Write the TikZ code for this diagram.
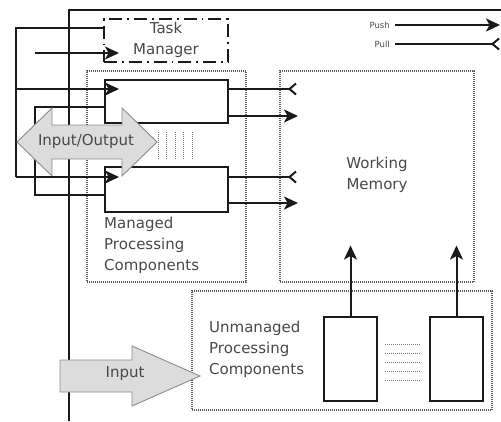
\documentclass[tikz,border=0pt]{standalone}
\usepackage{fontspec}
\setmainfont{DejaVu Sans}
\usetikzlibrary{arrows.meta}
\definecolor{txt}{HTML}{484848}
\definecolor{ln}{HTML}{1A1A1A}
\definecolor{iofill}{HTML}{DCDCDC}
\definecolor{ioline}{HTML}{8C8C8C}
\definecolor{dotc}{HTML}{5A5A5A}
\newcommand\mylbl{\fontsize{15}{21}\selectfont}
\begin{document}
\begin{tikzpicture}[x=1pt,y=-1pt,
  line/.style={draw=ln, line width=2pt},
  push/.style={line, -{Stealth[length=14pt,width=13pt,inset=3.5pt]}},
  pull/.style={line, -{Straight Barb[reversed,length=6.5pt,width=11pt,line width=2pt]}},
  dotbox/.style={draw=dotc, line width=1.1pt, dash pattern=on 1pt off 1pt, inner sep=0pt},
  procbox/.style={line, inner sep=0pt},
  txtn/.style={text=txt, font=\mylbl, inner sep=0pt},
  smalltxt/.style={text=txt, font=\fontsize{8.5}{10}\selectfont, inner sep=0pt},
  fatarrow/.style={draw=ioline, fill=iofill, line width=0.9pt, line join=miter},
  ellip/.style={draw=dotc!80, line width=1pt, dash pattern=on 1pt off 1pt}]
\useasboundingbox (0,0) rectangle (501,421);

% dotted group boxes
\node[dotbox, minimum width=159pt, minimum height=211pt] (mpc) at (166.5,176.5) {};
\node[dotbox, minimum width=194pt, minimum height=211pt] (wm) at (377,176.5) {};
\node[dotbox, minimum width=300pt, minimum height=119pt] (upc) at (342,350.5) {};

% frame
\coordinate (fb) at (69,421);
\coordinate (fc) at (69,10);
\coordinate (fr) at (501,10);
\draw[line] (fb) -- (fc) -- (fr);

% task manager and processing boxes
\node[procbox, dash pattern=on 13pt off 5pt on 1.8pt off 5pt, minimum width=124pt, minimum height=43pt] (tm) at (166,40.5) {};
\node[txtn, align=center] (tmt) at (166,40) {Task\\Manager};
\node[procbox, minimum width=123pt, minimum height=43pt] (p1) at (166.5,101.5) {};
\node[procbox, minimum width=123pt, minimum height=45pt] (p2) at (166.5,189.5) {};
\node[procbox, minimum width=53pt, minimum height=84pt] (ua) at (350.5,359) {};
\node[procbox, minimum width=53pt, minimum height=84pt] (ub) at (456.5,359) {};

% left bus coordinates
\coordinate (t28) at (16,28);
\coordinate (t89) at (16,89);
\coordinate (t177) at (16,177);
\coordinate (b53) at (35,53);
\coordinate (b107) at (35,107);
\coordinate (b195) at (35,195);

\draw[line] (tm.west |- t28) -- (t28) -- (t177);
\draw[push] (t89) -- ([xshift=15pt]p1.west |- t89);
\draw[push] (b53) -- ([xshift=16pt]tm.west |- b53);
\draw[line] (p1.west |- b107) -- (b107) -- (b195) -- (p2.west |- b195);

% right side connections to working memory
\coordinate (r89) at (297,89);
\coordinate (r116) at (298,116);
\coordinate (r177) at (297,177);
\coordinate (r203) at (298,203);
\draw[pull] (p1.east |- r89) -- (r89);
\draw[push] (p1.east |- r116) -- (r116);
\draw[pull] (p2.east |- r177) -- (r177);
\draw[push] (p2.east |- r203) -- (r203);

% unmanaged to working memory
\draw[push] (ua.north) -- ([yshift=37pt]ua.north |- wm.south);
\draw[push] (ub.north) -- ([yshift=37pt]ub.north |- wm.south);

% Input/Output double arrow
\draw[fatarrow] (17,142) -- (52,108) -- (52,125) -- (122,125) -- (122,108) -- (157,142)
  -- (122,176) -- (122,159) -- (52,159) -- (52,176) -- cycle;
\node[txtn] (io) at (86,141) {Input/Output};
\draw[push] (t177) -- ([xshift=15pt]p2.west |- t177);

% Input arrow
\draw[fatarrow] (60,360) -- (132,360) -- (132,346) -- (200,376) -- (132,406) -- (132,392)
  -- (60,392) -- cycle;
\node[txtn] (inp) at (125,374) {Input};

% ellipses
\foreach \x in {158,166.5,175,183.5,192}
  \draw[ellip] (\x,132) -- (\x,159);
\foreach \y in {344,353,362,371,380}
  \draw[ellip] (385,\y) -- (420,\y);

% labels
\node[txtn, align=center] (wmt) at (377,175) {Working\\Memory};
\node[txtn, align=left, anchor=west] (mpct) at (104,245) {Managed\\Processing\\Components};
\node[txtn, align=left, anchor=west] (upct) at (209,349) {Unmanaged\\Processing\\Components};

% legend
\node[smalltxt, anchor=east] (pushl) at (390,25) {Push};
\coordinate (pushe) at (500,25);
\draw[push] ([xshift=5pt]pushl.east) -- (pushe);
\node[smalltxt, anchor=east] (pulll) at (390,44) {Pull};
\coordinate (pulle) at (500,44);
\draw[pull] ([xshift=5pt]pulll.east |- pulle) -- (pulle);
\end{tikzpicture}
\end{document}
